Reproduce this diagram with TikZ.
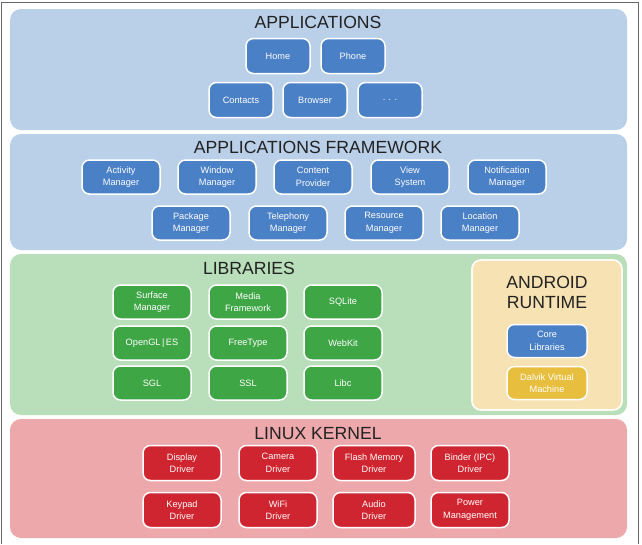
\documentclass[tikz,border=0pt]{standalone}
\usepackage{fontspec}
\setmainfont{Liberation Sans}
\definecolor{bandblue}{HTML}{BACFE8}
\definecolor{nodeblue}{HTML}{4A80C6}
\definecolor{bandgreen}{HTML}{B8DEBA}
\definecolor{nodegreen}{HTML}{3FA646}
\definecolor{bandyellow}{HTML}{F6E2B3}
\definecolor{nodeyellow}{HTML}{E8BE3E}
\definecolor{bandred}{HTML}{EDA8AC}
\definecolor{nodered}{HTML}{CF2530}
\definecolor{titlecol}{HTML}{222222}
\begin{document}
\begin{tikzpicture}[x=1pt,y=-1pt,
  layer/.style={rounded corners=11pt, inner sep=0pt, minimum width=617pt},
  title/.style={text=titlecol, font=\fontsize{17.6}{19}\selectfont, align=center, inner sep=0pt},
  comp/.style={rounded corners=7.5pt, draw=white, line width=1.5pt, minimum width=78pt,
    minimum height=34pt, inner sep=1pt, align=center, text=white,
    font=\fontsize{9.2}{12.5}\selectfont},
  bluebox/.style={comp, fill=nodeblue},
  greenbox/.style={comp, fill=nodegreen},
  yellowbox/.style={comp, fill=nodeyellow},
  redbox/.style={comp, fill=nodered}]
\useasboundingbox (0,0) rectangle (642,544);
\draw[gray!80!black, line width=1pt] (1,544) -- (1,2) -- (638.5,2) -- (638.5,544);
% layers
\node[layer, fill=bandblue, minimum height=121pt] (applayer) at (318.5,69.5) {};
\node[layer, fill=bandblue, minimum height=116pt] (fwlayer) at (318.5,192) {};
\node[layer, fill=bandgreen, minimum height=161pt] (liblayer) at (318.5,334.5) {};
\node[layer, fill=bandred, minimum height=119pt] (kernlayer) at (318.5,478.5) {};
\node[rounded corners=9pt, fill=bandyellow, draw=white!85!bandyellow, line width=1.8pt,
  minimum width=150pt, minimum height=150pt, inner sep=0pt] (rtlayer) at (547,335) {};
% titles
\node[title] (apptitle) at (318,22) {APPLICATIONS};
\node[title] (fwtitle) at (318,147) {APPLICATIONS FRAMEWORK};
\node[title] (libtitle) at (249,268) {LIBRARIES};
\node[title] (kerntitle) at (318,434) {LINUX KERNEL};
\node[title, font=\fontsize{17.6}{20}\selectfont] (rttitle) at (547,292) {ANDROID\\RUNTIME};
% applications
\node[bluebox, minimum width=64pt, minimum height=35pt] (home) at (278,56) {Home};
\node[bluebox, minimum width=64pt, minimum height=35pt] (phone) at (353,56) {Phone};
\node[bluebox, minimum width=64pt, minimum height=35pt] (contacts) at (241,100) {Contacts};
\node[bluebox, minimum width=64pt, minimum height=35pt] (browser) at (315,100) {Browser};
\node[bluebox, minimum width=64pt, minimum height=35pt] (more) at (390,100) {. . .};
% framework
\node[bluebox] (activity) at (121,177) {Activity\\Manager};
\node[bluebox] (window) at (217,177) {Window\\Manager};
\node[bluebox] (content) at (313,177) {Content\\Provider};
\node[bluebox] (view) at (410,177) {View\\System};
\node[bluebox] (notif) at (507,177) {Notification\\Manager};
\node[bluebox] (package) at (191,223) {Package\\Manager};
\node[bluebox] (telephony) at (288,223) {Telephony\\Manager};
\node[bluebox] (resource) at (384,223) {Resource\\Manager};
\node[bluebox] (location) at (480,223) {Location\\Manager};
% libraries
\node[greenbox] (surface) at (152,302) {Surface\\Manager};
\node[greenbox] (media) at (248,302) {Media\\Framework};
\node[greenbox] (sqlite) at (343,302) {SQLite};
\node[greenbox] (opengl) at (152,343) {OpenGL{\,}|{\,}ES};
\node[greenbox] (freetype) at (248,343) {FreeType};
\node[greenbox] (webkit) at (343,343) {WebKit};
\node[greenbox] (sgl) at (152,383) {SGL};
\node[greenbox] (ssl) at (248,383) {SSL};
\node[greenbox] (libc) at (343,383) {Libc};
% runtime
\node[bluebox, minimum width=80pt, minimum height=33pt] (core) at (547,341) {Core\\Libraries};
\node[yellowbox, minimum width=80pt, minimum height=33pt] (dalvik) at (547,383) {Dalvik Virtual\\Machine};
% kernel
\node[redbox, minimum height=35pt] (display) at (182,463) {Display\\Driver};
\node[redbox, minimum height=35pt] (camera) at (278,463) {Camera\\Driver};
\node[redbox, minimum width=82pt, minimum height=35pt] (flash) at (374,463) {Flash Memory\\Driver};
\node[redbox, minimum height=35pt] (binder) at (470,463) {Binder (IPC)\\Driver};
\node[redbox, minimum height=35pt] (keypad) at (182,510) {Keypad\\Driver};
\node[redbox, minimum height=35pt] (wifi) at (278,510) {WiFi\\Driver};
\node[redbox, minimum width=82pt, minimum height=35pt] (audio) at (374,510) {Audio\\Driver};
\node[redbox, minimum height=35pt] (power) at (470,510) {Power\\Management};
\end{tikzpicture}
\end{document}
